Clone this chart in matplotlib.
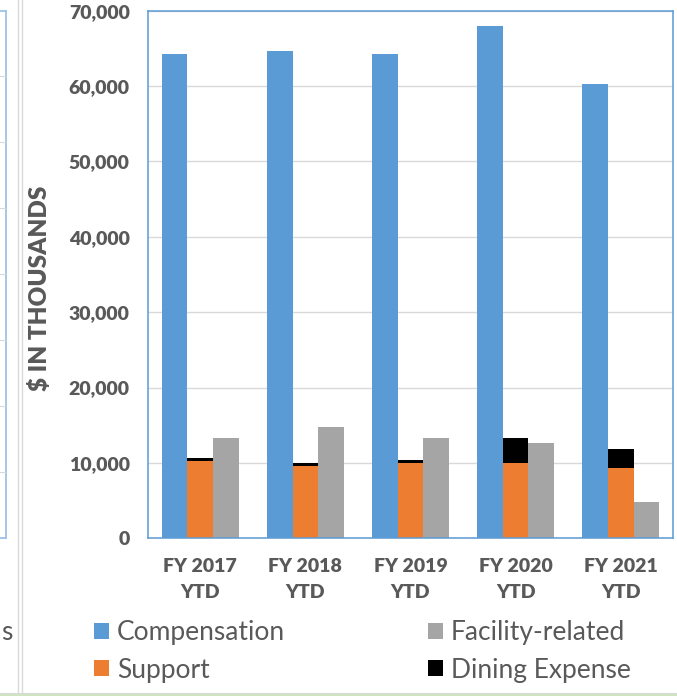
import numpy as np
import matplotlib
matplotlib.use("Agg")
import matplotlib.pyplot as plt
from matplotlib.lines import Line2D
from matplotlib.ticker import FuncFormatter

# ---- data ----
categories = ["FY 2017\nYTD", "FY 2018\nYTD", "FY 2019\nYTD", "FY 2020\nYTD", "FY 2021\nYTD"]
compensation = [64200, 64700, 64300, 68000, 60300]
support = [10300, 9650, 9950, 9950, 9300]
dining = [400, 400, 400, 3300, 2550]
facility = [13250, 14800, 13250, 12700, 4800]
series_names = ["Compensation", "Support", "Facility-related", "Dining Expense"]

W, H = 677, 696
plt.rcParams['font.family'] = ['Lato', 'DejaVu Sans']
fig = plt.figure(figsize=(W / 100, H / 100), dpi=100)

def fx(px):
    return px / W

def fy(py):
    return 1 - py / H

left, right, top, bottom = 147.7, 673.3, 10.7, 538.3
ax = fig.add_axes([fx(left), fy(bottom), fx(right - left), (bottom - top) / H])

TXT = '#595959'
c_comp, c_sup, c_fac, c_din = '#5B9BD5', '#ED7D31', '#A5A5A5', '#000000'

x = np.arange(len(categories))
w = 0.733 / 3
b_comp = ax.bar(x - w, compensation, w, color=c_comp, label=series_names[0], zorder=2)
b_sup = ax.bar(x, support, w, color=c_sup, label=series_names[1], zorder=2)
b_din = ax.bar(x, dining, w, bottom=support, color=c_din, label=series_names[3], zorder=2)
b_fac = ax.bar(x + w, facility, w, color=c_fac, label=series_names[2], zorder=2)

ax.set_xlim(-0.5, len(categories) - 0.5)
ax.set_ylim(0, 70000)
ax.set_yticks(np.arange(0, 70001, 10000))
ax.yaxis.set_major_formatter(FuncFormatter(lambda v, p: f"{int(v):,}"))
ax.set_xticks(x)
ax.set_xticklabels(categories, linespacing=1.65)
ax.tick_params(axis='both', length=0, labelsize=14, labelcolor=TXT)
ax.tick_params(axis='y', pad=13)
ax.tick_params(axis='x', pad=14)
for lab in ax.get_xticklabels() + ax.get_yticklabels():
    lab.set_fontweight('heavy')

ax.grid(axis='y', color='#D9D9D9', linewidth=1.0, zorder=0)
ax.set_axisbelow(True)
for s in ax.spines.values():
    s.set_color(c_comp)
    s.set_linewidth(1.1)

ax.text((40 - left) / (right - left), (bottom - 288) / (bottom - top), "$ IN THOUSANDS",
        transform=ax.transAxes, rotation=90, ha='center', va='center',
        fontsize=17.5, fontweight='heavy', color=TXT)

leg = fig.legend(handles=[b_comp, b_sup, b_fac, b_din], labels=series_names,
                 ncol=2, loc='upper left', bbox_to_anchor=(fx(94), fy(620)),
                 frameon=False, fontsize=19, labelcolor=TXT,
                 handlelength=0.57, handleheight=0.57, handletextpad=0.3,
                 columnspacing=5.4, labelspacing=0.48, borderpad=0, borderaxespad=0)

# ---- neighbouring chart fragments in the screenshot ----
def fline(xs, ys, color, lw):
    fig.add_artist(Line2D([fx(v) for v in xs], [fy(v) for v in ys],
                          transform=fig.transFigure, color=color, linewidth=lw))

fline([6, 6], [10.7, 538.3], '#9DC3E6', 1.3)
fline([0, 6], [10.7, 10.7], '#9DC3E6', 1.3)
fline([0, 6], [538.3, 538.3], '#9DC3E6', 1.3)
for gy in [76, 142, 208, 274, 340, 406, 472]:
    fline([0, 5.5], [gy, gy], '#D9D9D9', 0.8)
fline([18, 18], [0, 692], '#D9D9D9', 1.0)
fline([21.5, 21.5], [0, 692], '#D9D9D9', 1.0)
fline([0, W], [692.5, 692.5], '#D9D9D9', 0.8)
fline([0, W], [694.5, 694.5], '#C5E0B4', 1.2)
fig.text(fx(12), fy(632), "s", ha='right', va='center', fontsize=19, color=TXT)

fig.savefig("out.png", dpi=100, facecolor='white')
